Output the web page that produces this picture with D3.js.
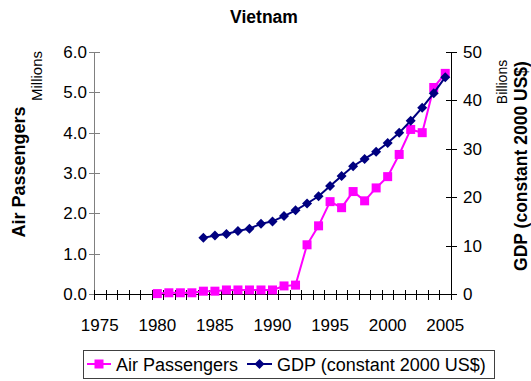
<!DOCTYPE html>
<html>
<head>
<meta charset="utf-8">
<script src="https://cdn.jsdelivr.net/npm/d3@7"></script>
<style>
  body { margin: 0; background: #fff; }
  svg text { font-family: "Liberation Sans", Arial, sans-serif; fill: #000; }
</style>
</head>
<body>
<svg id="chart"></svg>
<script>
// data
const years = d3.range(1975, 2006)
const paxYears = d3.range(1980, 2006)
const passengers = [0.01, 0.03, 0.03, 0.03, 0.07, 0.07, 0.1, 0.1, 0.1, 0.1, 0.1, 0.2, 0.22,
  1.22, 1.69, 2.29, 2.14, 2.54, 2.31, 2.63, 2.91, 3.46, 4.08, 4.0, 5.12, 5.47]
const gdpYears = d3.range(1984, 2006)
const gdp = [11.6, 12.1, 12.4, 13.0, 13.5, 14.5, 15.0, 16.1, 17.3, 18.7, 20.2, 22.3, 24.4,
  26.4, 27.9, 29.4, 31.2, 33.3, 35.8, 38.5, 41.5, 44.8]
const labelYears = [1975, 1980, 1985, 1990, 1995, 2000, 2005]
const leftTicks = [0, 1, 2, 3, 4, 5, 6]
const rightTicks = [0, 10, 20, 30, 40, 50]

const width = 531
const height = 381
const margin = { left: 94, right: 80, top: 52, bottom: 87 }

const svg = d3.select('svg#chart').attr('width', width).attr('height', height)

const x0 = margin.left
const x1 = width - margin.right
const y0 = height - margin.bottom
const y1 = margin.top

const xScale = d3.scaleBand().domain(years).range([x0, x1])
const yLeft = d3.scaleLinear().domain([0, 6]).range([y0, y1])
const yRight = d3.scaleLinear().domain([0, 50]).range([y0, y1])
const cx = d => xScale(d) + xScale.bandwidth() / 2

// title
svg.append('text').attr('x', 264).attr('y', 23).attr('text-anchor', 'middle')
  .style('font-size', '17.5px').style('font-weight', 'bold').text('Vietnam')

// left axis
svg.append('line').attr('x1', x0 + 0.5).attr('x2', x0 + 0.5).attr('y1', y1).attr('y2', y0)
  .attr('stroke', '#808080')
svg.selectAll('.ltick').data(leftTicks).enter().append('line')
  .attr('x1', x0 - 5).attr('x2', x0 + 6)
  .attr('y1', d => Math.round(yLeft(d)) + 0.5).attr('y2', d => Math.round(yLeft(d)) + 0.5)
  .attr('stroke', '#808080')
svg.selectAll('.llab').data(leftTicks).enter().append('text')
  .attr('x', x0 - 7).attr('y', d => yLeft(d) + 6).attr('text-anchor', 'end')
  .style('font-size', '17px').text(d => d.toFixed(1))

// right axis
svg.append('line').attr('x1', x1 + 0.5).attr('x2', x1 + 0.5).attr('y1', y1).attr('y2', y0)
  .attr('stroke', '#000')
svg.selectAll('.rtick').data(rightTicks).enter().append('line')
  .attr('x1', x1 - 5).attr('x2', x1 + 6)
  .attr('y1', d => Math.round(yRight(d)) + 0.5).attr('y2', d => Math.round(yRight(d)) + 0.5)
  .attr('stroke', '#000')
svg.selectAll('.rlab').data(rightTicks).enter().append('text')
  .attr('x', x1 + 12).attr('y', d => yRight(d) + 6)
  .style('font-size', '17px').text(d => d)

// x axis with tick marks between categories
svg.append('line').attr('x1', x0).attr('x2', x1).attr('y1', y0 + 0.5).attr('y2', y0 + 0.5)
  .attr('stroke', '#000')
const bounds = years.map(d => xScale(d)).concat([x1])
svg.selectAll('.xtick').data(bounds).enter().append('line')
  .attr('x1', d => Math.round(d) + 0.5).attr('x2', d => Math.round(d) + 0.5)
  .attr('y1', y0 - 4).attr('y2', y0 + 6)
  .attr('stroke', '#000')
svg.selectAll('.xlab').data(labelYears).enter().append('text')
  .attr('x', cx).attr('y', 331).attr('text-anchor', 'middle')
  .style('font-size', '17px').text(d => d)

// axis titles
svg.append('text').attr('transform', 'translate(25,172) rotate(-90)')
  .attr('text-anchor', 'middle').style('font-size', '18px').style('font-weight', 'bold')
  .text('Air Passengers')
svg.append('text').attr('transform', 'translate(42,76) rotate(-90)')
  .attr('text-anchor', 'middle').style('font-size', '15px').text('Millions')
svg.append('text').attr('transform', 'translate(527,166) rotate(-90)')
  .attr('text-anchor', 'middle').style('font-size', '17.5px').style('font-weight', 'bold')
  .text('GDP (constant 2000 US$)')
svg.append('text').attr('transform', 'translate(507,82) rotate(-90)')
  .attr('text-anchor', 'middle').style('font-size', '14px').text('Billions')

// passengers series
const pink = '#FF00FF'
const navy = '#000080'
const paxLine = d3.line().x((d, i) => cx(paxYears[i])).y(d => yLeft(d))
svg.append('path').datum(passengers).attr('d', paxLine)
  .attr('fill', 'none').attr('stroke', pink).attr('stroke-width', 2)
svg.selectAll('.sq').data(passengers).enter().append('rect')
  .attr('x', (d, i) => cx(paxYears[i]) - 4.5).attr('y', d => yLeft(d) - 4.5)
  .attr('width', 9).attr('height', 9).attr('fill', pink)

// gdp series
const gdpLine = d3.line().x((d, i) => cx(gdpYears[i])).y(d => yRight(d))
svg.append('path').datum(gdp).attr('d', gdpLine)
  .attr('fill', 'none').attr('stroke', navy).attr('stroke-width', 2)
const diamond = 'M0,-5L5,0L0,5L-5,0Z'
svg.selectAll('.dm').data(gdp).enter().append('path')
  .attr('d', diamond)
  .attr('transform', (d, i) => 'translate(' + cx(gdpYears[i]) + ',' + yRight(d) + ')')
  .attr('fill', navy)

// legend
const lg = svg.append('g')
lg.append('rect').attr('x', 83.5).attr('y', 350.5).attr('width', 411).attr('height', 28)
  .attr('fill', '#fff').attr('stroke', '#404040')
lg.append('line').attr('x1', 87).attr('x2', 111).attr('y1', 364).attr('y2', 364)
  .attr('stroke', pink).attr('stroke-width', 2)
lg.append('rect').attr('x', 94.5).attr('y', 359.5).attr('width', 9).attr('height', 9).attr('fill', pink)
lg.append('text').attr('x', 116).attr('y', 371).style('font-size', '18px').text('Air Passengers')
lg.append('line').attr('x1', 247).attr('x2', 272).attr('y1', 364).attr('y2', 364)
  .attr('stroke', navy).attr('stroke-width', 2)
lg.append('path').attr('d', diamond).attr('transform', 'translate(259.5,364)').attr('fill', navy)
lg.append('text').attr('x', 277).attr('y', 371).style('font-size', '18px').text('GDP (constant 2000 US$)')
</script>
</body>
</html>
